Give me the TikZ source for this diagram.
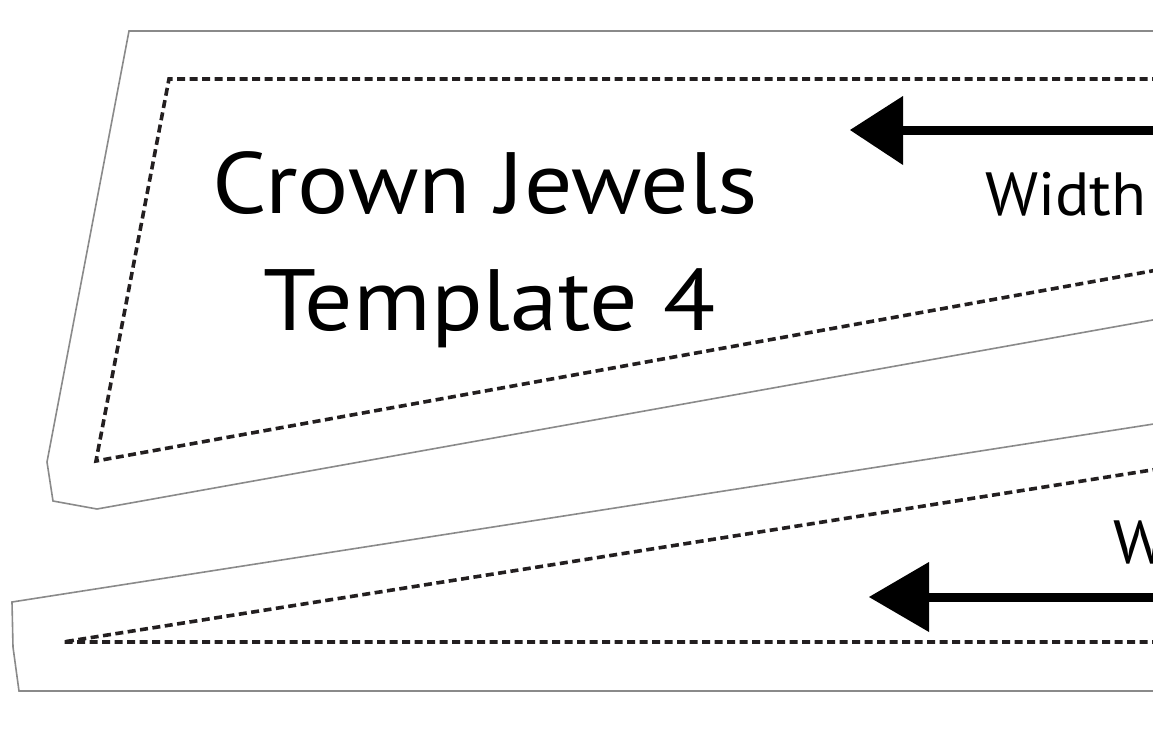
\documentclass[tikz,border=0pt]{standalone}
\usepackage{fontspec}
\setmainfont{PT Sans}
\newfontfamily\bigsans[FakeStretch=1.1]{PT Sans}
\newfontfamily\widesans[FakeStretch=1.05]{PT Sans}
\definecolor{cutgray}{HTML}{8A8A8A}
\definecolor{ink}{HTML}{231F20}
\begin{document}
\begin{tikzpicture}[x=1pt,y=-1pt,
  outline/.style={draw=cutgray, line width=1.6pt, line join=miter},
  foldline/.style={draw=ink, line width=3.6pt, dash pattern=on 8pt off 4.5pt},
  shaft/.style={draw=black, line width=9pt},
  headtri/.style={fill=black},
  bigtext/.style={font=\bigsans\fontsize{87}{87}\selectfont, anchor=base, inner sep=0pt},
  widthtext/.style={font=\widesans\fontsize{61}{61}\selectfont, anchor=base west, inner sep=0pt}]
\useasboundingbox (0,0) rectangle (1153,731);
\clip (0,0) rectangle (1153,731);
% upper piece
\draw[outline] (1160,31) -- (129,31) -- (47,462) -- (53,501) -- (97,509) -- (1160,318.7);
\draw[foldline] (1160,79) -- (169,79) -- (96,461) -- (1160,269.5);
% lower piece
\draw[outline] (1160,423) -- (12,602) -- (13,647) -- (19,691) -- (1160,691);
\draw[foldline] (1160,642) -- (63,642) -- (1160,468.7);
% texts
\node[bigtext] (t1) at (485,213) {Crown Jewels};
\node[bigtext] (t2) at (490,330) {Template 4};
\node[widthtext] (w1) at (985,215) {Width};
\node[widthtext] (w2) at (1113,563) {Width};
% arrows
\coordinate (a1s) at (1160,130);
\coordinate (a1b) at (903,130);
\coordinate (a1t) at (850,130);
\draw[shaft] (a1s) -- (a1b);
\fill[headtri] (a1t) -- (903,96) -- (903,165) -- cycle;
\coordinate (a2s) at (1160,597);
\coordinate (a2b) at (929,597);
\coordinate (a2t) at (869,597);
\draw[shaft] (a2s) -- (a2b);
\fill[headtri] (a2t) -- (929,562) -- (929,632) -- cycle;
\end{tikzpicture}
\end{document}
